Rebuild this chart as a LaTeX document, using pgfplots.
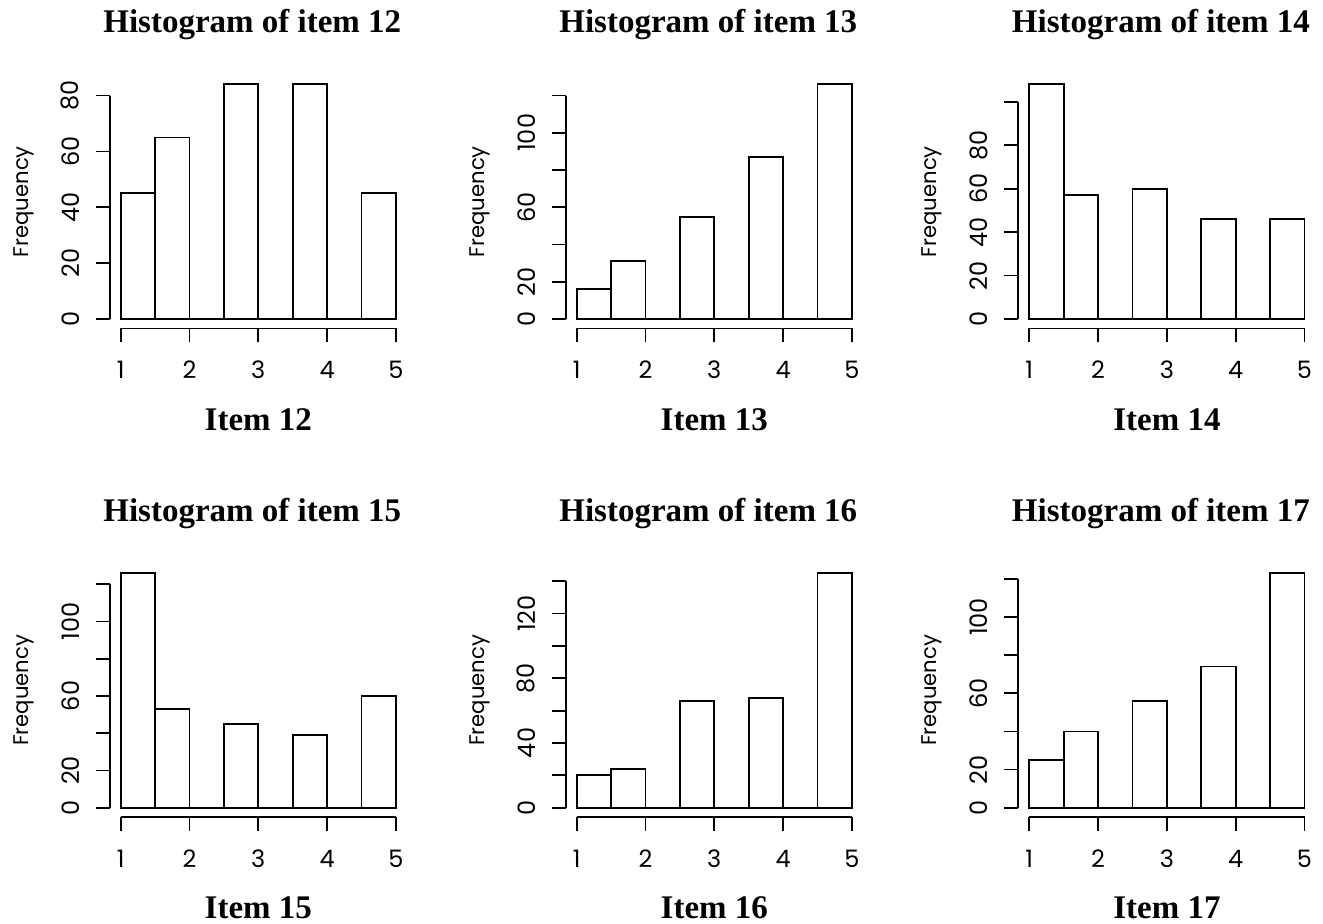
\documentclass[border=0pt]{standalone}
\usepackage{fontspec}
\setmainfont{Liberation Serif}
\newfontfamily\gfont{Poppins}
\usepackage{pgfplots}
\pgfplotsset{compat=1.18}

\pgfplotsset{
  rhist/.style={
    scale only axis, width=148.6pt, height=126.7pt,
    anchor=south west, clip=false,
    xmin=0.84, xmax=5.16,
    axis line style={draw=none},
    tick pos=left, tick align=outside, major tick length=7pt,
    every tick/.style={black, line width=0.9pt},
    xtick={1,2,3,4,5}, xticklabels={1,2,3,4,5},
    xticklabel style={font=\gfont\fontsize{12}{12}\selectfont, anchor=center, yshift=-13.8pt},
    yticklabel style={font=\gfont\fontsize{12}{12}\selectfont, xshift=-12.7pt, rotate=90, anchor=center},
    ylabel={Frequency},
    ylabel style={font=\gfont\fontsize{10.6}{12}\selectfont, at={(axis description cs:-0.29,0.5)}, rotate=0, anchor=center},
    title style={font=\bfseries\fontsize{16.5}{18}\selectfont, at={(axis description cs:0.5,1)}, anchor=base, yshift=15.3pt, xshift=-3pt},
    xlabel style={font=\bfseries\fontsize{16.5}{18}\selectfont, at={(axis description cs:0.5,0)}, anchor=base, yshift=-50.8pt},
  },
  bars/.style={ybar interval, draw=black, fill=white, line width=0.9pt},
}

\begin{document}
\begin{tikzpicture}
\useasboundingbox (0,0) rectangle (661.5pt,-461.5pt);

% item 12
\begin{axis}[rhist, at={(54.85pt,-164.2pt)}, ymin=-3.36, ymax=87.36,
  ytick={0,20,40,60,80}, yticklabels={0,20,40,60,80},
  title={Histogram of item 12}, xlabel={Item 12}]
  \addplot[bars] coordinates {(1,45) (1.5,65) (2,0) (2.5,84) (3,0) (3.5,84) (4,0) (4.5,45) (5,45)};
  \draw[line width=0.9pt] (axis cs:1,-3.36) -- (axis cs:5,-3.36);
  \draw[line width=0.9pt] (axis cs:0.84,0) -- (axis cs:0.84,80);
\end{axis}

% item 13
\begin{axis}[rhist, at={(282.85pt,-164.2pt)}, ymin=-5.04, ymax=131.04,
  ytick={0,20,40,60,80,100,120}, yticklabels={0,20,,60,,100,},
  title={Histogram of item 13}, xlabel={Item 13}]
  \addplot[bars] coordinates {(1,16) (1.5,31) (2,0) (2.5,55) (3,0) (3.5,87) (4,0) (4.5,126) (5,126)};
  \draw[line width=0.9pt] (axis cs:1,-5.04) -- (axis cs:5,-5.04);
  \draw[line width=0.9pt] (axis cs:0.84,0) -- (axis cs:0.84,120);
\end{axis}

% item 14
\begin{axis}[rhist, at={(509.15pt,-164.2pt)}, ymin=-4.32, ymax=112.32,
  ytick={0,20,40,60,80,100}, yticklabels={0,20,40,60,80,},
  title={Histogram of item 14}, xlabel={Item 14}]
  \addplot[bars] coordinates {(1,108) (1.5,57) (2,0) (2.5,60) (3,0) (3.5,46) (4,0) (4.5,46) (5,46)};
  \draw[line width=0.9pt] (axis cs:1,-4.32) -- (axis cs:5,-4.32);
  \draw[line width=0.9pt] (axis cs:0.84,0) -- (axis cs:0.84,100);
\end{axis}

% item 15
\begin{axis}[rhist, at={(54.85pt,-408.55pt)}, ymin=-5.04, ymax=131.04,
  ytick={0,20,40,60,80,100,120}, yticklabels={0,20,,60,,100,},
  title={Histogram of item 15}, xlabel={Item 15}]
  \addplot[bars] coordinates {(1,126) (1.5,53) (2,0) (2.5,45) (3,0) (3.5,39) (4,0) (4.5,60) (5,60)};
  \draw[line width=0.9pt] (axis cs:1,-5.04) -- (axis cs:5,-5.04);
  \draw[line width=0.9pt] (axis cs:0.84,0) -- (axis cs:0.84,120);
\end{axis}

% item 16
\begin{axis}[rhist, at={(282.85pt,-408.55pt)}, ymin=-5.8, ymax=150.8,
  ytick={0,20,40,60,80,100,120,140}, yticklabels={0,,40,,80,,120,},
  title={Histogram of item 16}, xlabel={Item 16}]
  \addplot[bars] coordinates {(1,20) (1.5,24) (2,0) (2.5,66) (3,0) (3.5,68) (4,0) (4.5,145) (5,145)};
  \draw[line width=0.9pt] (axis cs:1,-5.8) -- (axis cs:5,-5.8);
  \draw[line width=0.9pt] (axis cs:0.84,0) -- (axis cs:0.84,140);
\end{axis}

% item 17
\begin{axis}[rhist, at={(509.15pt,-408.55pt)}, ymin=-4.92, ymax=127.92,
  ytick={0,20,40,60,80,100,120}, yticklabels={0,20,,60,,100,},
  title={Histogram of item 17}, xlabel={Item 17}]
  \addplot[bars] coordinates {(1,25) (1.5,40) (2,0) (2.5,56) (3,0) (3.5,74) (4,0) (4.5,123) (5,123)};
  \draw[line width=0.9pt] (axis cs:1,-4.92) -- (axis cs:5,-4.92);
  \draw[line width=0.9pt] (axis cs:0.84,0) -- (axis cs:0.84,120);
\end{axis}
\end{tikzpicture}
\end{document}
